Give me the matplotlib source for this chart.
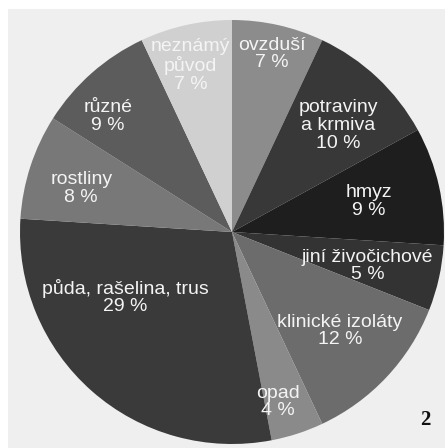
import numpy as np
import matplotlib.pyplot as plt
from matplotlib.patches import Rectangle

# slices, clockwise from 12 o'clock
labels = ["ovzduší", "potraviny\na krmiva", "hmyz", "jiní živočichové",
          "klinické izoláty", "opad", "půda, rašelina, trus", "rostliny",
          "různé", "neznámý\npůvod"]
shares = [7, 10, 9, 5, 12, 4, 29, 8, 9, 7]

colors = ["#8c8c8c", "#383838", "#1e1e1e", "#333333", "#6c6c6c",
          "#8a8a8a", "#3a3a3a", "#787878", "#5c5c5c", "#d0d0d0"]

# label placement (fraction of radius, clockwise angle shift in degrees)
label_r = [0.86, 0.71, 0.66, 0.66, 0.69, 0.83, 0.59, 0.74, 0.80, 0.81]
label_shift = [0, 1.8, 0, 1.4, -0.7, 3, 17.3, -2, -5.6, -1.4]

W, H, dpi = 445, 448, 100
cx, cy, R = 232, 232, 212  # pie centre and radius in pixels

fig = plt.figure(figsize=(W / dpi, H / dpi), dpi=dpi)
ax = fig.add_axes([0, 0, 1, 1])
ax.axis("off")

# light grey panel behind the pie
ax.add_patch(Rectangle((8 / W, 0), 1, (H - 9) / H, transform=fig.transFigure,
                       facecolor="#efefef", edgecolor="none", zorder=0, clip_on=False))

wedges, _ = ax.pie(shares, colors=colors, startangle=90, counterclock=False,
                   radius=1, wedgeprops=dict(linewidth=0, zorder=1))
ax.set_aspect("auto")
ax.set_xlim(-cx / R, (W - cx) / R)
ax.set_ylim(-(H - cy) / R, cy / R)

for w, lab, val, r, sh in zip(wedges, labels, shares, label_r, label_shift):
    ang = np.deg2rad((w.theta1 + w.theta2) / 2 - sh)
    ax.text(r * np.cos(ang), r * np.sin(ang), f"{lab}\n{val} %",
            ha="center", va="center", color="#f4f4f4", fontsize=14,
            family="Liberation Sans", linespacing=1.05, zorder=3)

fig.text(425 / W, 1 - 420 / H, "2", ha="center", va="center",
         fontsize=15, fontweight="bold", family="Liberation Serif", color="#111111")

fig.savefig("out.png", dpi=dpi)
